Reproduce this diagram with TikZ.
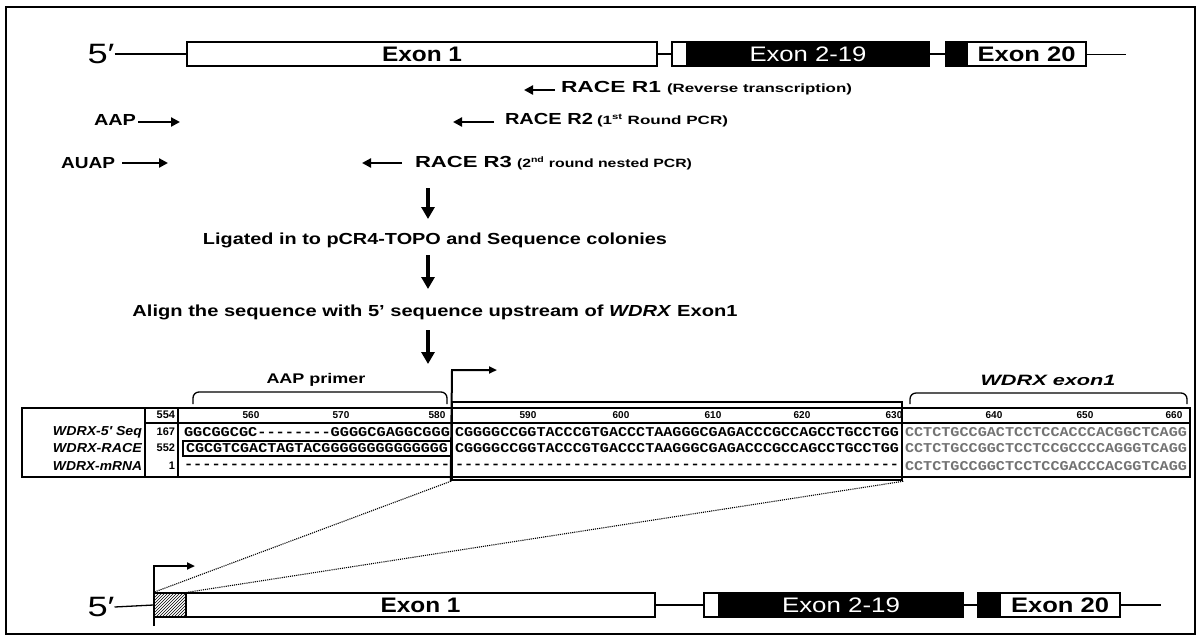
\documentclass[tikz,border=0pt]{standalone}
\usepackage{fontspec}
\usepackage{graphicx}
\setmainfont{Liberation Sans}
\newfontfamily\seqfont[Ligatures=TeXOff]{Liberation Mono}
\usetikzlibrary{patterns,arrows.meta}
\newcommand{\fitw}[2]{\resizebox{#1}{\height}{#2}}
\begin{document}
\begin{tikzpicture}[x=1pt,y=-1pt,
  exw/.style={draw, fill=white, line width=1.2pt, minimum height=24pt, inner sep=0pt, outer sep=0pt},
  exb/.style={draw, fill=black, text=white, line width=1.2pt, minimum height=24pt, inner sep=0pt, outer sep=0pt},
  intr/.style={line width=1.3pt},
  lbl/.style={inner sep=0pt, outer sep=0pt},
  prim/.style={line width=2.6pt, -{Triangle[width=9pt,length=9pt]}},
  flow/.style={line width=3.5pt, -{Triangle[width=13pt,length=12pt]}},
  tssarr/.style={line width=2pt, -{Triangle[width=7pt,length=8pt]}},
  zoomline/.style={densely dotted, line width=1.1pt},
  bracketline/.style={line width=1.3pt, rounded corners=6pt},
  pfont/.style={font=\bfseries\fontsize{16}{16}\selectfont},
  seq/.style={lbl, anchor=west, font=\seqfont\bfseries\fontsize{13.5}{13.5}\selectfont},
  seqg/.style={seq, text=black!55},
  rul/.style={lbl, font=\bfseries\fontsize{10}{10}\selectfont},
  nm/.style={lbl, anchor=east, font=\bfseries\itshape\fontsize{13}{13}\selectfont},
  num/.style={lbl, anchor=east, font=\bfseries\fontsize{11}{11}\selectfont},
]
\useasboundingbox (0,0) rectangle (1199,638);
\fill[white] (0,0) rectangle (1199,638);
\draw[line width=1.5pt] (6,7) rectangle (1195,634);

% ---------- top gene ----------
\node[lbl, font=\fontsize{28}{28}\selectfont] (t5) at (101,54) {\fitw{27pt}{5′}};
\node[exw, minimum width=470pt] (t1) at (422,54) {\bfseries\fontsize{21}{21}\selectfont\fitw{80pt}{Exon 1}};
\node[exw, minimum width=15pt] (ts) at (679.5,54) {};
\node[exb, minimum width=242pt] (t2) at (808,54) {\fontsize{21}{21}\selectfont\fitw{117pt}{Exon 2-19}};
\node[exb, minimum width=21pt] (t3) at (956.5,54) {};
\node[exw, minimum width=119pt] (t4) at (1026.5,54) {\bfseries\fontsize{21}{21}\selectfont\fitw{98pt}{Exon 20}};
\coordinate (tend) at (1126,54);
\draw[intr] (t5.east) -- (t1.west);
\draw[intr] (t1.east) -- (ts.west);
\draw[intr] (t2.east) -- (t3.west);
\draw[line width=0.9pt] (t4.east) -- (tend);

% ---------- primers ----------
\node[lbl, anchor=west] (r1) at (561,88) {\bfseries\fontsize{16}{16}\selectfont\fitw{100pt}{RACE R1}\hspace{6pt}\fontsize{12}{12}\selectfont\fitw{185pt}{(Reverse transcription)}};
\coordinate (r1a) at (555,90); \coordinate (r1b) at (524,90);
\draw[prim] (r1a) -- (r1b);
\node[lbl, anchor=west] (r2) at (505,120) {\bfseries\fontsize{16}{16}\selectfont\fitw{88pt}{RACE R2}\hspace{4pt}\fontsize{12}{12}\selectfont\fitw{131pt}{(1\textsuperscript{st} Round PCR)}};
\coordinate (r2a) at (494,122); \coordinate (r2b) at (453,122);
\draw[prim] (r2a) -- (r2b);
\node[lbl, anchor=west] (r3) at (415,163) {\bfseries\fontsize{16}{16}\selectfont\fitw{97pt}{RACE R3}\hspace{5pt}\fontsize{12}{12}\selectfont\fitw{175pt}{(2\textsuperscript{nd} round nested PCR)}};
\coordinate (r3a) at (402,163); \coordinate (r3b) at (362,163);
\draw[prim] (r3a) -- (r3b);
\node[lbl, pfont] (aap) at (115,120) {\fitw{42pt}{AAP}};
\coordinate (aapa) at (138,122); \coordinate (aapb) at (180,122);
\draw[prim] (aapa) -- (aapb);
\node[lbl, pfont] (auap) at (88,163) {\fitw{54pt}{AUAP}};
\coordinate (auapa) at (122,163); \coordinate (auapb) at (168,163);
\draw[prim] (auapa) -- (auapb);

% ---------- flow ----------
\coordinate (f1a) at (428,188); \coordinate (f1b) at (428,219);
\draw[flow] (f1a) -- (f1b);
\node[lbl, pfont] (lig) at (435,240) {\fitw{464pt}{Ligated in to pCR4-TOPO and Sequence colonies}};
\coordinate (f2a) at (428,255); \coordinate (f2b) at (428,289);
\draw[flow] (f2a) -- (f2b);
\node[lbl, pfont] (aln) at (435,312) {\fitw{605pt}{Align the sequence with 5' sequence upstream of \textit{WDRX} Exon1}};
\coordinate (f3a) at (428,330); \coordinate (f3b) at (428,364);
\draw[flow] (f3a) -- (f3b);

% ---------- brackets ----------
\node[lbl, font=\bfseries\fontsize{14}{14}\selectfont] (aapl) at (316,380) {\fitw{99pt}{AAP primer}};
\draw[bracketline] (193,404) -- (193,392) -- (447,392) -- (447,404);
\node[lbl, font=\bfseries\itshape\fontsize{15}{15}\selectfont] (wexl) at (1048,380) {\fitw{135pt}{WDRX exon1}};
\draw[bracketline] (910,404) -- (910,393) -- (1187,393) -- (1187,404);

% ---------- alignment table ----------
\draw[line width=1.2pt] (22,408) rectangle (1190,477);
\draw[line width=1.2pt] (145,408) -- (145,477);
\draw[line width=1.2pt] (178,408) -- (178,477);
\draw[line width=1.2pt] (145,423) -- (1190,423);

\node[nm] (n1) at (142,432) {\fitw{89pt}{WDRX-5′ Seq}};
\node[nm] (n2) at (142,448) {\fitw{89pt}{WDRX-RACE}};
\node[nm] (n3) at (142,466) {\fitw{89pt}{WDRX-mRNA}};
\node[num] (u0) at (175,415) {554};
\node[num] (u1) at (175,432) {167};
\node[num] (u2) at (175,448) {552};
\node[num] (u3) at (175,466) {1};

\foreach \xx/\tt in {251/560,341/570,437/580,528/590,621/600,713/610,802/620,894/630,994/640,1085/650,1174/660}
  \node[rul] at (\xx,415) {\tt};

\node[seq] (s1a) at (184,432) {\fitw{266pt}{GGCGGCGC--------GGGGCGAGGCGGG}};
\node[seq] (s1b) at (455,432) {\fitw{444pt}{CGGGGCCGGTACCCGTGACCCTAAGGGCGAGACCCGCCAGCCTGCCTGG}};
\node[seqg] (s1c) at (905,432) {\fitw{282pt}{CCTCTGCCGACTCCTCCACCCACGGCTCAGG}};
\node[seq] (s2a) at (186,448) {\fitw{262pt}{CGCGTCGACTAGTACGGGGGGGGGGGGGG}};
\node[seq] (s2b) at (455,448) {\fitw{444pt}{CGGGGCCGGTACCCGTGACCCTAAGGGCGAGACCCGCCAGCCTGCCTGG}};
\node[seqg] (s2c) at (905,448) {\fitw{282pt}{CCTCTGCCGGCTCCTCCGCCCCAGGGTCAGG}};
\node[seq] (s3a) at (184,466) {\fitw{266pt}{-----------------------------}};
\node[seq] (s3b) at (455,466) {\fitw{444pt}{-------------------------------------------------}};
\node[seqg] (s3c) at (905,466) {\fitw{282pt}{CCTCTGCCGGCTCCTCCGACCCACGGTCAGG}};

\node[draw, line width=1.2pt, minimum width=268pt, minimum height=15pt, inner sep=0pt] (hl) at (317,448.5) {};
\node[draw, line width=2.5pt, minimum width=450pt, minimum height=78pt, inner sep=0pt] (zb) at (677,441) {};

% transcription start (alignment)
\coordinate (tsa) at (452,370);
\draw[tssarr] (zb.south west) -- (tsa) -- ++(45,0);

% ---------- bottom gene ----------
\node[lbl, font=\fontsize{28}{28}\selectfont] (b5) at (101,607) {\fitw{27pt}{5′}};
\node[draw, line width=1.2pt, pattern=north east lines, minimum width=32pt, minimum height=24pt, inner sep=0pt] (b0) at (170,605) {};
\node[exw, minimum width=469pt] (b1) at (420.5,605) {\bfseries\fontsize{21}{21}\selectfont\fitw{80pt}{Exon 1}};
\node[exw, minimum width=15pt] (bs) at (711.5,605) {};
\node[exb, minimum width=244pt] (b2) at (841,605) {\fontsize{21}{21}\selectfont\fitw{118pt}{Exon 2-19}};
\node[exb, minimum width=22pt] (b3) at (989,605) {};
\node[exw, minimum width=120pt] (b4) at (1060,605) {\bfseries\fontsize{21}{21}\selectfont\fitw{98pt}{Exon 20}};
\coordinate (bend) at (1161,605);
\draw[intr] (b5.east) -- (b0.west);
\draw[intr] (b1.east) -- (bs.west);
\draw[intr] (b2.east) -- (b3.west);
\draw[intr] (b4.east) -- (bend);
\coordinate (tsb) at (154,566); \coordinate (tsbb) at (154,626);
\draw[tssarr] (tsbb) -- (tsb) -- ++(41,0);

% ---------- zoom lines ----------
\draw[zoomline] (zb.south west) -- (b0.north west);
\draw[zoomline] (zb.south east) -- (b0.north east);
\end{tikzpicture}
\end{document}
